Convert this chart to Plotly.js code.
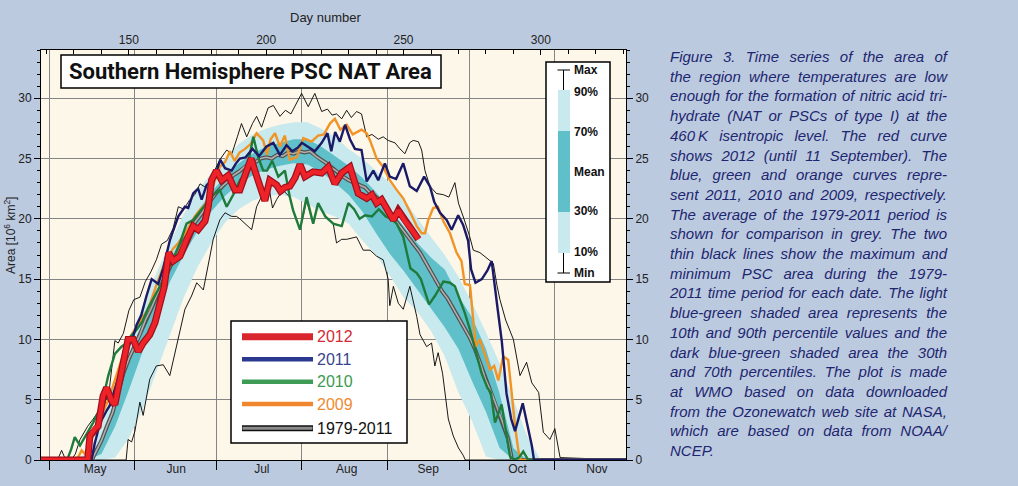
<!DOCTYPE html>
<html>
<head>
<meta charset="utf-8">
<script src="https://cdn.plot.ly/plotly-3.0.1.min.js"></script>
<style>
  html, body { margin:0; padding:0; background:#bccadf; }
  #wrap { position:relative; width:1018px; height:486px; overflow:hidden; }
  #chart { position:absolute; left:0; top:0; width:1018px; height:486px; }
  #caption { position:absolute; left:670px; top:47px; width:277px;
    font-family:"Liberation Sans", Arial, sans-serif; font-style:italic; font-size:15px;
    line-height:19.7px; color:#1d2670; }
  #caption div { text-align:justify; text-align-last:justify; }
  #caption div.last { text-align-last:left; }
</style>
</head>
<body>
<div id="wrap">
  <div id="chart"></div>
  <div id="caption"></div>
</div>
<script>
// ---------------- DATA ----------------
const monthStarts = [121, 152, 182, 213, 244, 274, 305];
const monthLabelPos = [137.7, 167.2, 198.4, 229.3, 259, 291.5, 320.4];
const monthNames  = ["May", "Jun", "Jul", "Aug", "Sep", "Oct", "Nov"];

// percentile bands of 1979-2011
const pctDays = [130,135,140,145,150,155,160,165,170,175,180,185,190,195,200,205,210,215,220,225,230,235,240,245,250,255,260,265,270,275,280,285,290,295,300];
const p10 = [0,0,0,0.2,1.8,4.2,7.3,10.5,13.5,16.0,18.0,19.7,20.8,21.5,21.9,22.0,21.8,21.2,20.6,20.2,19.6,18.2,17.0,15.3,13.5,12.3,10.7,8.6,5.6,3.2,0.3,0,0,0,0];
const p30 = [0,0,0.5,2.8,5.8,9.0,12.0,14.8,17.0,19.0,20.6,21.9,22.9,23.6,24.1,24.4,24.6,24.5,23.9,23.0,22.0,20.6,18.8,17.1,15.7,14.1,12.6,11.0,9.2,6.5,4.0,1.0,0,0,0];
const p70 = [0,0,1.8,5.0,8.6,11.4,14.0,16.6,18.8,20.6,22.2,23.5,24.6,25.4,26.0,26.3,26.6,26.6,26.0,25.2,24.4,23.4,22.2,20.8,19.4,18.0,16.8,15.8,13.6,11.8,9.2,5.5,1.0,0,0];
const p90 = [0,0.6,2.8,6.3,9.8,12.8,15.5,18.0,20.4,22.3,23.8,25.0,26.2,27.0,27.5,27.8,28.0,28.0,27.5,26.8,25.8,25.0,24.0,23.0,21.6,20.0,18.5,17.0,15.2,13.0,10.6,8.0,5.0,2.0,0];

// mean 1979-2011
const meanDays = [118,136.5,138,140,142,144,146,148,150,152,154,156,158,160,162,164,166,168,170,172,174,176,178,180,182,184,186,188,190,192,194,196,198,200,202,204,206,208,210,212,214,216,218,220,222,224,226,228,230,232,234,236,238,240,242,244,246,248,250,252,254,256,258,260,262,264,266,268,270,272,274,276,278,280,282,284,286,288,289.5,331];
const meanArea = [0,0,0.7,1.6,2.8,3.9,5.5,7.2,8.4,9.4,10.4,11.6,12.5,13.6,14.6,15.5,16.5,17.3,18.2,18.9,19.7,20.3,21.0,21.6,22.2,22.7,23.1,23.6,23.9,24.3,24.6,24.7,25.0,25.1,25.0,25.3,25.2,25.5,25.4,25.6,25.5,25.6,25.2,24.9,24.6,24.2,23.9,23.5,23.2,23.0,22.8,22.6,22.1,21.8,21.4,20.8,20.2,19.6,19.0,18.5,17.8,17.2,16.4,15.6,14.8,14.0,13.4,12.6,11.8,11.0,10.2,9.2,8.0,6.6,5.6,4.4,3.2,1.8,0,0];

// maximum 1979-2011
const maxDays = [118,124,125.5,127,129,130.5,132.2,135,137,139.4,141.2,143,144.9,146.1,148,150,151.8,154,156,158,160,161.9,164,166.1,168,170,172.2,174,175.9,178,179.5,181.5,183.1,185.6,187.5,189.5,191,192.9,195,196.5,198.3,200.7,202.6,205,207,209,211,212.9,215.3,217.7,220.2,222.3,224,225.6,227.5,229.3,231,232.9,234.7,236.6,238.5,240.8,242.6,244.4,246.9,248.7,250.5,252.2,253.5,255.4,256.6,257.8,259.6,262,264.5,266.5,268.7,270,272,274,275.4,277.8,280,282.7,284,285.1,287.2,290,292.4,294.8,296.7,299.2,300.9,303.3,305.1,307,331];
const maxArea = [0,0,0.8,0,0,0.5,1.7,2.8,3.4,4.2,4.6,6.1,9.9,9.7,10.5,12.4,13.3,13.5,14.8,15.6,16.6,17.9,18.2,19.2,21.0,20.8,21.6,22.0,22.9,22.6,23.2,24.2,24.9,25.7,25.4,26.8,27.9,26.8,27.9,28.5,27.6,29.2,29.4,28.5,29.0,28.7,29.6,30.4,29.3,30.4,28.9,29.1,28.6,28.7,28.3,29.0,28.4,28.9,28.7,26.8,27.0,26.6,26.8,26.5,26.3,25.8,25.4,26.3,26.5,26.4,25.7,24.0,22.7,22.1,22.0,21.8,23.0,21.3,20.0,18.6,17.4,17.2,16.8,16.3,14.5,13.3,11.6,10.0,7.0,8.1,6.4,5.6,2.3,1.7,2.6,0.2,0];

// minimum 1979-2011
const minDays = [118,149,149.7,151,152.2,154,155.2,157.6,160,162.5,164.9,166.8,169.2,170.4,172.8,174.7,177.1,179.5,180.7,183.1,185,187.4,189.2,190.4,192.9,194.7,196.5,198.9,200.7,202.3,203.8,206,208.6,209.8,212.3,214.7,217.1,218.9,221.5,224.4,225.6,227.5,229.3,232.9,235.3,237.8,240.2,242.6,244.4,245,246.3,248.1,249.9,252.3,254.8,256,258.4,260.2,261.4,262.6,264.2,266.3,268.1,270,271.7,272.5,331];
const minArea = [0,0,1.7,1.5,2.4,4.8,3.7,6.7,7.8,7.9,7.0,8.9,11.1,12.5,13.6,14.7,14.1,17.0,18.3,19.9,20.5,20.2,20.2,20.0,19.5,19.1,21.0,22.1,23.0,20.9,21.6,22.4,21.8,20.7,19.1,21.5,19.6,21.3,20.2,19.6,18.0,18.3,18.3,18.5,17.4,17.4,16.9,16.6,15.0,12.8,14.4,13.0,12.5,14.4,11.9,10.4,9.4,9.7,7.8,8.9,7.2,3.4,2.0,1.0,0.4,0,0];

// 2009
const days2009 = [118,131,132.8,134,135.5,137,139,141,142.5,144,146,148,150,152.8,155,157,160,163,166,168,171,174,176,178.3,180.1,183.1,185,186.8,188.5,190.3,192.3,194.3,196.5,198.9,200.3,201.6,203.2,205,206.8,208.6,211.1,213.5,216.5,218.9,221,223.2,225,227,229.3,231.5,234.7,236.6,237.8,240.2,242.6,245,247.5,249.9,252.3,254.8,256.6,257.8,259,260.8,262.5,264.5,266.9,269.3,271.1,272.3,274.2,275.1,276.3,277.8,280.3,281.5,283,284.5,286.3,288.1,289.4,290.6,291.8,292.6,300];
const area2009 = [0,0,0.8,0.5,1.2,2.0,3.0,4.2,5.0,6.0,7.5,8.8,10.0,11.1,11.8,12.5,14.5,16.3,17.5,18.0,19.0,20.2,20.8,21.3,22.4,24.3,24.7,25.6,24.8,25.5,25.8,26.2,27.1,26.5,25.3,26.6,27.1,26.0,26.9,24.9,25.1,26.7,26.4,26.9,27.0,27.9,28.3,27.4,27.8,27.0,27.4,27.1,26.5,25.0,24.3,23.2,22.4,21.7,20.6,19.4,18.8,18.8,19.9,20.9,21.0,19.8,18.8,17.2,16.5,14.6,14.5,12.0,9.4,10.0,8.3,7.5,7.8,6.6,8.6,8.3,5.5,2.8,0.8,0,0];

// 2010
const days2010 = [118,127.5,129,130.3,132.2,134.6,137,140,142.5,144.9,147.3,149.2,150.8,152.8,155,157,159,161.3,163.7,166.1,168.6,171,173.4,176,178.3,180.8,183.1,185.6,188,190.4,192.9,195.3,197.1,198.9,200.3,202.2,204.4,206.8,208.6,209.8,212.3,214.7,217.1,218.9,221.5,224.4,227.5,229.9,232,234,236,238.5,241,243.5,245.5,247.5,249.9,252.5,254.8,256.3,259.3,261.4,264.5,266.9,268.7,270.5,272.3,274.2,276.3,278.4,280.5,281.8,283.3,285.7,287.2,288.8,290.2,292,293.6,295.4,300];
const area2010 = [0,0,0.9,1.9,1.2,2.1,3.1,4.5,7.0,8.8,9.4,9.7,10.3,10.8,11.5,12.6,13.4,14.4,15.6,16.6,18.0,19.6,19.9,20.6,21.3,22.0,22.4,21.0,22.0,23.2,24.0,26.8,25.1,24.0,24.0,24.8,23.5,24.0,21.8,20.7,19.1,21.8,19.6,21.3,20.2,19.6,19.4,21.3,20.8,20.0,20.3,20.2,20.8,20.2,20.0,19.6,18.5,15.9,15.5,15.0,12.9,13.6,14.8,14.7,14.4,13.3,12.2,10.8,9.0,7.2,6.0,5.6,3.1,4.6,2.5,0.3,0,0.2,0.7,0,0];

// 2011
const days2011 = [118,136.4,137.5,139.4,141.9,143,144.5,146.5,148.5,150.2,151.5,152.8,154.5,156.4,158.3,159.5,160.7,162.5,164.9,166.1,168,170.4,171.6,173.4,175.2,176.5,178.3,180.1,182,183.3,185,187.4,189,190.4,192.5,195,197.4,200.1,202.6,205,207.4,209.5,211.5,213,215,217.7,220.2,222.3,223.7,225.1,226.8,228.7,230.5,232.3,234.7,236.6,239,240.8,243.2,245,247.3,249.9,252.3,254.8,257.5,259.6,261.2,263.3,265.7,267.5,269.9,271.7,273.5,274.6,276.2,278.5,280.5,282.1,284,285.8,287.5,289.2,290.6,292.2,293.4,295,296.7,297.5,331];
const area2011 = [0,0,1.3,3.0,4.1,4.5,5.6,7.1,8.5,9.6,10.2,11.2,12.0,13.6,15.0,14.8,14.6,15.9,18.2,19.0,20.2,21.0,20.9,22.1,22.5,21.6,22.8,23.2,24.0,24.9,24.2,24.0,24.6,25.0,25.1,25.8,25.2,26.0,26.3,25.3,26.1,25.6,25.9,26.3,26.0,25.6,26.3,27.1,25.6,27.2,26.4,27.8,26.6,25.8,25.7,23.1,24.0,23.2,24.6,23.5,23.3,24.6,22.7,22.3,23.5,22.7,21.4,20.5,19.9,19.1,20.3,19.5,18.2,15.8,14.7,15.0,15.7,16.5,13.0,9.8,5.5,3.4,2.4,3.8,4.7,3.0,1.2,0,0];

// 2012 (until 11 September)
const days2012 = [118,135,135.8,137.5,138.8,140.6,141.9,143.7,144.9,146.3,148,149.7,151.6,153.4,155.2,157.6,159.5,161.6,162.8,164.5,166.1,168.6,171,173.4,175.2,177.7,178.9,180.1,181.9,183.8,186.2,188.6,190.4,192.2,194.5,196,198.3,199.5,201.3,203.8,205.2,206.8,208.6,210.5,212.3,214.1,217.1,220.2,222.6,225,227.5,230.5,233.5,236.6,238.5,240.2,242,244.4,246.3,248.1,250.5,253,255.4];
const area2012 = [0,0,2.0,2.6,2.8,5.3,6.0,4.9,4.6,6.2,8.3,10.0,10.0,9.0,9.7,10.4,11.4,13.4,14.3,17.2,16.5,16.9,18.3,19.4,19.1,19.8,21.0,23.2,24.0,23.2,23.6,22.4,22.4,23.6,25.0,23.9,22.1,21.5,23.2,22.8,22.3,22.6,22.7,23.4,24.5,23.5,23.9,23.8,24.3,22.9,23.8,24.3,22.1,21.7,22.0,21.3,21.6,20.6,19.9,20.7,19.8,19.1,18.3];

const legendNames  = ["2012", "2011", "2010", "2009", "1979-2011"];
const legendColors = ["#d42a35", "#3a4690", "#3a9a50", "#f08a30", "#111111"];
const boxLabels    = ["Max", "90%", "70%", "Mean", "30%", "10%", "Min"];

const captionLines = [
 "Figure 3. Time series of the area of",
 "the region where temperatures are low",
 "enough for the formation of nitric acid tri-",
 "hydrate (NAT or PSCs of type I) at the",
 "460\u2009K isentropic level. The red curve",
 "shows 2012 (until 11 September). The",
 "blue, green and orange curves repre-",
 "sent 2011, 2010 and 2009, respectively.",
 "The average of the 1979-2011 period is",
 "shown for comparison in grey. The two",
 "thin black lines show the maximum and",
 "minimum PSC area during the 1979-",
 "2011 time period for each date. The light",
 "blue-green shaded area represents the",
 "10th and 90th percentile values and the",
 "dark blue-green shaded area the 30th",
 "and 70th percentiles. The plot is made",
 "at WMO based on data downloaded",
 "from the Ozonewatch web site at NASA,",
 "which are based on data from NOAA/",
 "NCEP."
];

// ---------------- CHART ----------------
const LIGHT = "#c8e9ee", DARK = "#5fc0c9";
function ln(x, y, color, width, extra) {
  return Object.assign({x: x, y: y, type: "scatter", mode: "lines", hoverinfo: "skip",
    showlegend: false, line: {color: color, width: width}}, extra || {});
}
const traces = [
  ln(pctDays, p10, "rgba(0,0,0,0)", 0),
  ln(pctDays, p90, "rgba(0,0,0,0)", 0, {fill: "tonexty", fillcolor: LIGHT}),
  ln(pctDays, p30, "rgba(0,0,0,0)", 0),
  ln(pctDays, p70, "rgba(0,0,0,0)", 0, {fill: "tonexty", fillcolor: DARK}),
  ln(maxDays, maxArea, "#000000", 0.9),
  ln(minDays, minArea, "#000000", 0.9),
  ln(meanDays, meanArea, "#505050", 4),
  ln(meanDays, meanArea, "#b0b0b0", 1.6),
  ln(days2009, area2009, "#f29325", 2.4),
  ln(days2010, area2010, "#1e7b3b", 2.4),
  ln(days2011, area2011, "#1a1a66", 2.4),
  ln(days2012, area2012, "#9e0f1c", 7),
  ln(days2012, area2012, "#ee2229", 4.6),
  // empty traces so that the overlay axes (day number on top, month names, right axis) are drawn
  {x: [], y: [], type: "scatter", mode: "lines", xaxis: "x2", yaxis: "y", showlegend: false, hoverinfo: "skip"},
  {x: [], y: [], type: "scatter", mode: "lines", xaxis: "x3", yaxis: "y", showlegend: false, hoverinfo: "skip"},
  {x: [], y: [], type: "scatter", mode: "lines", xaxis: "x", yaxis: "y2", showlegend: false, hoverinfo: "skip"}
];

// layout geometry helpers (pixel -> paper)
const L = 41, R = 626, T = 50, B = 460;
const px = v => (v - L) / (R - L);
const py = v => (B - v) / (B - T);

const shapes = [];
const annotations = [];

// title box
shapes.push({type: "rect", xref: "paper", yref: "paper", x0: px(61), x1: px(441), y0: py(88), y1: py(55),
  line: {color: "#000", width: 1.5}, fillcolor: "#ffffff", layer: "above"});
annotations.push({xref: "paper", yref: "paper", x: px(250), y: py(71.5), xanchor: "center", yanchor: "middle",
  showarrow: false, text: "<b>Southern Hemisphere PSC NAT Area</b>",
  font: {family: "Roboto, 'DejaVu Sans', sans-serif", size: 22, color: "#111"}});

// legend box
shapes.push({type: "rect", xref: "paper", yref: "paper", x0: px(231), x1: px(407), y0: py(443), y1: py(321),
  line: {color: "#000", width: 1.5}, fillcolor: "#ffffff", layer: "above"});
const legY = [336.7, 359.3, 381.7, 404, 428.3];
const legLine = [["#d9262e", 7], ["#2b3990", 4.5], ["#3f9c57", 4.5], ["#f0862e", 4.5], ["#111111", 6]];
legendNames.forEach((n, i) => {
  shapes.push({type: "line", xref: "paper", yref: "paper", x0: px(242), x1: px(313), y0: py(legY[i]), y1: py(legY[i]),
    line: {color: legLine[i][0], width: legLine[i][1]}, layer: "above"});
  if (i === 4) {
    shapes.push({type: "line", xref: "paper", yref: "paper", x0: px(242.5), x1: px(312.5), y0: py(legY[i]), y1: py(legY[i]),
      line: {color: "#8c8c8c", width: 3}, layer: "above"});
  }
  annotations.push({xref: "paper", yref: "paper", x: px(315), y: py(legY[i]), xanchor: "left", yanchor: "middle",
    showarrow: false, text: n, font: {family: "Liberation Sans, Arial, sans-serif", size: 16, color: legendColors[i]}});
});

// percentile key box
shapes.push({type: "rect", xref: "paper", yref: "paper", x0: px(546), x1: px(610), y0: py(282), y1: py(62),
  line: {color: "#000", width: 1.5}, fillcolor: "#ffffff", layer: "above"});
shapes.push({type: "rect", xref: "paper", yref: "paper", x0: px(558), x1: px(570), y0: py(253), y1: py(90),
  line: {width: 0}, fillcolor: LIGHT, layer: "above"});
shapes.push({type: "rect", xref: "paper", yref: "paper", x0: px(558), x1: px(570), y0: py(212), y1: py(131),
  line: {width: 0}, fillcolor: DARK, layer: "above"});
[[70, 90], [253, 273]].forEach(s => {
  shapes.push({type: "line", xref: "paper", yref: "paper", x0: px(563.5), x1: px(563.5), y0: py(s[0]), y1: py(s[1]),
    line: {color: "#000", width: 1}, layer: "above"});
});
[70, 273].forEach(yv => {
  shapes.push({type: "line", xref: "paper", yref: "paper", x0: px(557.5), x1: px(570), y0: py(yv), y1: py(yv),
    line: {color: "#000", width: 1}, layer: "above"});
});
const boxY = [70, 91.7, 132.3, 172.3, 211, 251.7, 273.3];
boxLabels.forEach((t, i) => {
  annotations.push({xref: "paper", yref: "paper", x: px(571.5), y: py(boxY[i]), xanchor: "left", yanchor: "middle",
    showarrow: false, text: "<b>" + t + "</b>", font: {family: "Liberation Sans, Arial, sans-serif", size: 12, color: "#111"}});
});

// axis titles
annotations.push({xref: "paper", yref: "paper", x: px(10), y: py(236), xanchor: "center", yanchor: "middle",
  showarrow: false, textangle: -90,
  text: "Area [10<sup>6</sup> km<sup>2</sup>]", font: {family: "Liberation Sans, Arial, sans-serif", size: 12, color: "#222"}});
annotations.push({xref: "paper", yref: "paper", x: px(325), y: py(18), xanchor: "center", yanchor: "middle",
  showarrow: false,
  text: "Day number", font: {family: "Liberation Sans, Arial, sans-serif", size: 13, color: "#222"}});

const tickFont = {family: "Liberation Sans, Arial, sans-serif", size: 12, color: "#222"};
const GRID = "#858585";
const layout = {
  width: 1018, height: 486,
  paper_bgcolor: "#bccadf", plot_bgcolor: "#fdf7e9",
  margin: {l: L, r: 1018 - R, t: T, b: 486 - B, pad: 0},
  showlegend: false,
  font: tickFont,
  xaxis: {range: [118, 331], tickmode: "array", tickvals: monthStarts, showticklabels: false,
    ticks: "outside", ticklen: 9, tickcolor: "#000", showgrid: true, gridcolor: GRID, gridwidth: 1,
    showline: true, linecolor: "#000", linewidth: 1, zeroline: false, fixedrange: true},
  xaxis2: {overlaying: "x", side: "top", anchor: "y", range: [118, 331], tick0: 0, dtick: 50,
    ticks: "inside", ticklen: 5, tickcolor: "#000",
    minor: {dtick: 10, tick0: 0, ticks: "inside", ticklen: 4, tickcolor: "#000", showgrid: false},
    showgrid: false, showline: true, linecolor: "#000", zeroline: false, tickfont: tickFont},
  xaxis3: {overlaying: "x", side: "bottom", anchor: "y", range: [118, 331], tickmode: "array",
    tickvals: monthLabelPos, ticktext: monthNames, ticks: "", showgrid: false, showline: false, zeroline: false,
    tickfont: tickFont},
  yaxis: {range: [0, 34], tick0: 0, dtick: 5, ticks: "outside", ticklen: 6, tickcolor: "#000",
    minor: {dtick: 1, tick0: 0, ticks: "outside", ticklen: 3, tickcolor: "#000", showgrid: false},
    showgrid: true, gridcolor: GRID, gridwidth: 1, showline: true, linecolor: "#000", zeroline: false, tickfont: tickFont},
  yaxis2: {overlaying: "y", side: "right", anchor: "x", range: [0, 34], tick0: 0, dtick: 5,
    ticks: "outside", ticklen: 6, tickcolor: "#000",
    minor: {dtick: 1, tick0: 0, ticks: "outside", ticklen: 3, tickcolor: "#000", showgrid: false},
    showgrid: false, showline: true, linecolor: "#000", zeroline: false, tickfont: tickFont},
  shapes: shapes,
  annotations: annotations
};

Plotly.newPlot("chart", traces, layout, {staticPlot: true, displayModeBar: false});

// caption text
const cap = document.getElementById("caption");
captionLines.forEach((t, i) => {
  const d = document.createElement("div");
  d.textContent = t;
  if (i === captionLines.length - 1) d.className = "last";
  cap.appendChild(d);
});
</script>
</body>
</html>
